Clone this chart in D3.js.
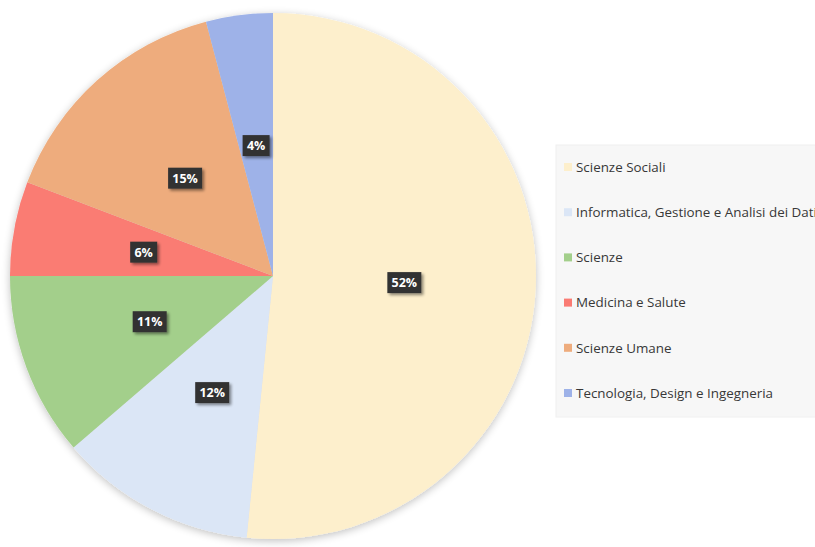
<!DOCTYPE html>
<html>
<head>
<meta charset="utf-8">
<script src="https://cdn.jsdelivr.net/npm/d3@7"></script>
<style>
  html, body { margin: 0; padding: 0; background: #fff; }
  svg { display: block; font-family: "Open Sans", sans-serif; }
</style>
</head>
<body>
<div id="chart"></div>
<script>
// Data
const categories = [
  'Scienze Sociali',
  'Informatica, Gestione e Analisi dei Dati',
  'Scienze',
  'Medicina e Salute',
  'Scienze Umane',
  'Tecnologia, Design e Ingegneria'
];
const shares = [51.6, 12.1, 11.3, 5.8, 15.1, 4.1];
const colors = ['#fdefcc', '#dbe6f6', '#a3cf8b', '#fa7b73', '#eeac7d', '#9eb2e8'];

const width = 815, height = 547;
const cx = 273, cy = 276, R = 263;

const svg = d3.select('#chart').append('svg')
  .attr('width', width)
  .attr('height', height);

const defs = svg.append('defs');

// soft glow around the pie
const glow = defs.append('filter').attr('id', 'pieShadow')
  .attr('x', '-10%').attr('y', '-10%').attr('width', '120%').attr('height', '120%');
glow.append('feGaussianBlur').attr('in', 'SourceAlpha').attr('stdDeviation', 4);
glow.append('feOffset').attr('dx', 0).attr('dy', 2).attr('result', 'b');
glow.append('feComponentTransfer').append('feFuncA').attr('type', 'linear').attr('slope', 0.25);
const m1 = glow.append('feMerge');
m1.append('feMergeNode');
m1.append('feMergeNode').attr('in', 'SourceGraphic');

// small drop shadow for label boxes
const lshadow = defs.append('filter').attr('id', 'lblShadow')
  .attr('x', '-30%').attr('y', '-30%').attr('width', '160%').attr('height', '160%');
lshadow.append('feGaussianBlur').attr('in', 'SourceAlpha').attr('stdDeviation', 1.5);
lshadow.append('feOffset').attr('dx', 1.5).attr('dy', 2).attr('result', 'b');
lshadow.append('feComponentTransfer').append('feFuncA').attr('type', 'linear').attr('slope', 0.45);
const m2 = lshadow.append('feMerge');
m2.append('feMergeNode');
m2.append('feMergeNode').attr('in', 'SourceGraphic');

const pie = d3.pie().sort(null).value(d => d);
const arcs = pie(shares);
const arc = d3.arc().innerRadius(0).outerRadius(R);

const g = svg.append('g').attr('transform', `translate(${cx},${cy})`);

g.append('g').attr('filter', 'url(#pieShadow)')
  .selectAll('path')
  .data(arcs)
  .enter()
  .append('path')
  .attr('d', arc)
  .attr('fill', (d, i) => colors[i]);

// percentage labels
const labels = g.selectAll('.lbl')
  .data(arcs)
  .enter()
  .append('g')
  .attr('class', 'lbl')
  .attr('transform', d => `translate(${arc.centroid(d)})`);

labels.each(function(d) {
  const sel = d3.select(this);
  const txt = Math.round(d.data) + '%';
  const w = txt.length > 2 ? 34 : 27;
  sel.append('rect')
    .attr('x', -w / 2).attr('y', -10.5)
    .attr('width', w).attr('height', 21)
    .attr('fill', '#333333')
    .attr('filter', 'url(#lblShadow)');
  sel.append('text')
    .attr('text-anchor', 'middle')
    .attr('dy', '0.36em')
    .attr('fill', '#fff')
    .attr('font-size', '12.5px')
    .style('font-weight', 'bold')
    .text(txt);
});

// legend
const legend = svg.append('g').attr('transform', 'translate(556,145)');
legend.append('rect')
  .attr('width', 270).attr('height', 272)
  .attr('fill', '#f7f7f7')
  .attr('stroke', '#f0f0f0');

const item = legend.selectAll('.item')
  .data(categories)
  .enter()
  .append('g')
  .attr('class', 'item')
  .attr('transform', (d, i) => `translate(8, ${22 + i * 45.2})`);

item.append('rect')
  .attr('x', 0).attr('y', -4)
  .attr('width', 8).attr('height', 8)
  .attr('fill', (d, i) => colors[i]);

item.append('text')
  .attr('x', 12)
  .attr('dy', '0.35em')
  .attr('fill', '#383838')
  .attr('font-size', '13.4px')
  .text(d => d);
</script>
</body>
</html>
